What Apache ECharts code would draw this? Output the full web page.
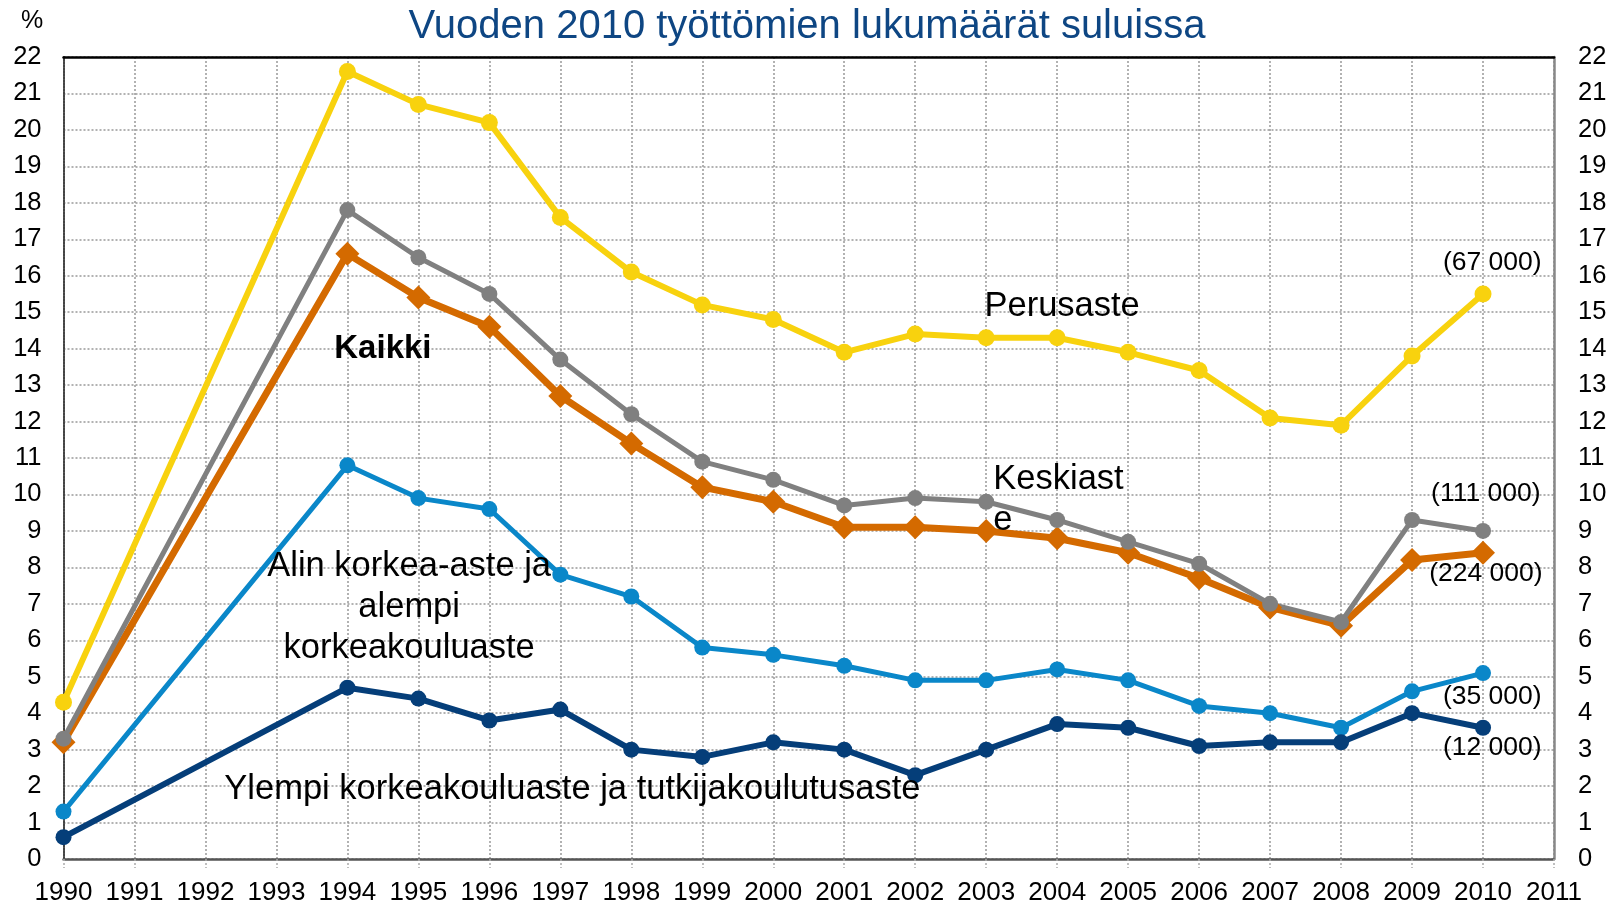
<!DOCTYPE html>
<html>
<head>
<meta charset="utf-8">
<script src="https://cdn.jsdelivr.net/npm/echarts@6/dist/echarts.min.js"></script>
<style>
  html, body { margin: 0; padding: 0; background: #fff; }
  #chart { width: 1614px; height: 907px; }
</style>
</head>
<body>
<div id="chart"></div>
<script>
// years with data (1991-1993 missing)
const years = [1990, 1994, 1995, 1996, 1997, 1998, 1999, 2000, 2001, 2002, 2003, 2004, 2005, 2006, 2007, 2008, 2009, 2010];

const perusaste = [4.3, 21.6, 20.7, 20.2, 17.6, 16.1, 15.2, 14.8, 13.9, 14.4, 14.3, 14.3, 13.9, 13.4, 12.1, 11.9, 13.8, 15.5];
const keskiaste = [3.3, 17.8, 16.5, 15.5, 13.7, 12.2, 10.9, 10.4, 9.7, 9.9, 9.8, 9.3, 8.7, 8.1, 7.0, 6.5, 9.3, 9.0];
const kaikki = [3.2, 16.6, 15.4, 14.6, 12.7, 11.4, 10.2, 9.8, 9.1, 9.1, 9.0, 8.8, 8.4, 7.7, 6.9, 6.4, 8.2, 8.4];
const alinKorkea = [1.3, 10.8, 9.9, 9.6, 7.8, 7.2, 5.8, 5.6, 5.3, 4.9, 4.9, 5.2, 4.9, 4.2, 4.0, 3.6, 4.6, 5.1];
const ylempiKorkea = [0.6, 4.7, 4.4, 3.8, 4.1, 3.0, 2.8, 3.2, 3.0, 2.3, 3.0, 3.7, 3.6, 3.1, 3.2, 3.2, 4.0, 3.6];

// 2010 counts
const counts2010 = ['(67 000)', '(111 000)', '(224 000)', '(35 000)', '(12 000)'];

const titleText = 'Vuoden 2010 työttömien lukumäärät suluissa';
const FONT = '"Liberation Sans", Arial, sans-serif';

const pairs = vals => years.map((y, i) => [y, vals[i]]);

const chart = echarts.init(document.getElementById('chart'));

const lineSeries = (name, vals, color, width, symbol, size) => ({
  name: name,
  type: 'line',
  data: pairs(vals),
  symbol: symbol,
  symbolSize: size,
  lineStyle: { color: color, width: width },
  itemStyle: { color: color },
  animation: false
});

// annotation texts placed in data coordinates
const annotations = [
  { name: 'Perusaste', value: [2004.07, 15.17] },
  { name: 'Keskiast\ne', value: [2003.1, 9.86], label: { position: 'right', distance: 0, align: 'left' } },
  { name: 'Kaikki', value: [1994.5, 13.98], label: { fontWeight: 'bold', fontSize: 33 } },
  { name: 'Alin korkea-aste ja\nalempi\nkorkeakouluaste', value: [1994.87, 6.9] },
  { name: 'Ylempi korkeakouluaste ja tutkijakoulutusaste', value: [1997.17, 1.92] },
  { name: counts2010[0], value: [2010.13, 16.35], label: { fontSize: 26.5 } },
  { name: counts2010[1], value: [2010.04, 10.03], label: { fontSize: 26.5 } },
  { name: counts2010[2], value: [2010.04, 7.83], label: { fontSize: 26.5 } },
  { name: counts2010[3], value: [2010.13, 4.45], label: { fontSize: 26.5 } },
  { name: counts2010[4], value: [2010.13, 3.05], label: { fontSize: 26.5 } }
];

const gridDots = { color: '#999', width: 1.5, type: [2, 2] };

chart.setOption({
  backgroundColor: '#fff',
  title: {
    text: titleText,
    left: 'center',
    top: 2,
    textStyle: { color: '#0e4683', fontSize: 40, fontWeight: 'normal', fontFamily: FONT }
  },
  graphic: [
    { type: 'text', left: 21, top: 9, style: { text: '%', fontSize: 25, fill: '#000', fontFamily: FONT } }
  ],
  grid: { left: 63.5, right: 60, top: 57, bottom: 48 },
  xAxis: [
    {
      type: 'value',
      min: 1990,
      max: 2011,
      interval: 1,
      axisLine: { show: true, onZero: false, lineStyle: { color: '#555', width: 2.5, type: [2, 1] } },
      axisTick: { show: true, length: 9, lineStyle: { color: '#aaa', width: 1.5, type: [2, 2] } },
      axisLabel: { formatter: v => String(v), color: '#000', fontSize: 26, margin: 21, fontFamily: FONT },
      splitLine: { show: true, lineStyle: gridDots }
    },
    {
      type: 'value',
      position: 'top',
      min: 1990,
      max: 2011,
      interval: 1,
      axisLine: { show: true, onZero: false, lineStyle: { color: '#000', width: 2.5 } },
      axisTick: { show: false },
      axisLabel: { show: false },
      splitLine: { show: false }
    }
  ],
  yAxis: [
    {
      type: 'value',
      min: 0,
      max: 22,
      interval: 1,
      axisLine: { show: true, onZero: false, lineStyle: { color: '#444', width: 2, type: [2, 1] } },
      axisTick: { show: false },
      axisLabel: { color: '#000', fontSize: 25.5, margin: 22, fontFamily: FONT },
      splitLine: { show: true, lineStyle: gridDots }
    },
    {
      type: 'value',
      position: 'right',
      min: 0,
      max: 22,
      interval: 1,
      axisLine: { show: true, onZero: false, lineStyle: { color: '#888', width: 2.5 } },
      axisTick: { show: false },
      axisLabel: { color: '#000', fontSize: 25.5, margin: 24, fontFamily: FONT },
      splitLine: { show: false }
    }
  ],
  series: [
    lineSeries('Perusaste', perusaste, '#f8d20e', 6, 'circle', 17),
    lineSeries('Kaikki', kaikki, '#d46a00', 7, 'diamond', 24),
    lineSeries('Keskiaste', keskiaste, '#808080', 5, 'circle', 16),
    lineSeries('Alin korkea-aste ja alempi korkeakouluaste', alinKorkea, '#0a87c9', 5, 'circle', 16),
    lineSeries('Ylempi korkeakouluaste ja tutkijakoulutusaste', ylempiKorkea, '#053e79', 6, 'circle', 16),
    {
      type: 'scatter',
      data: annotations,
      symbolSize: 0,
      silent: true,
      animation: false,
      z: 10,
      itemStyle: { opacity: 1 },
      label: {
        show: true,
        position: 'inside',
        formatter: p => p.name,
        color: '#000',
        fontSize: 34.5,
        lineHeight: 41,
        fontFamily: FONT,
        align: 'center'
      }
    }
  ]
});
</script>
</body>
</html>
